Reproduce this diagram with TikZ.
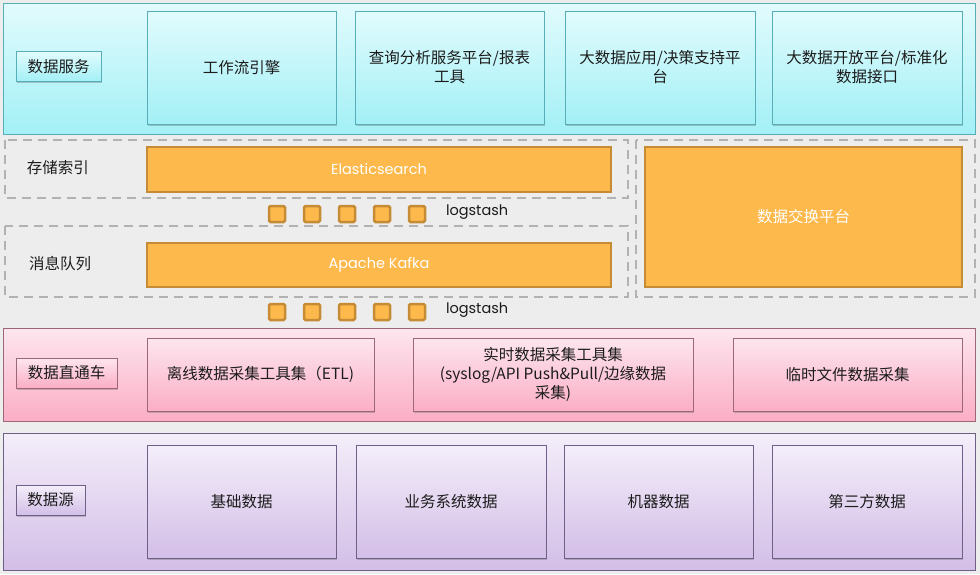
\documentclass[tikz,border=0pt]{standalone}
\usepackage{fontspec}
\setmainfont{Noto Sans CJK SC}
\newfontfamily\roundfont{Poppins}
\usepackage{tikz}
\usepackage{xcolor}
\usetikzlibrary{shadows}

\definecolor{pagegray}{HTML}{EDEDED}
\definecolor{dashgray}{HTML}{B2B2B2}
\definecolor{cyantop}{HTML}{E2FBFD}
\definecolor{cyanbot}{HTML}{A2F0F6}
\definecolor{cyanedge}{HTML}{58AEB6}
\definecolor{pinktop}{HTML}{FDE6EE}
\definecolor{pinkbot}{HTML}{FBAEC6}
\definecolor{pinkedge}{HTML}{9C6878}
\definecolor{lilactop}{HTML}{F4EEFA}
\definecolor{lilacbot}{HTML}{D3BEE7}
\definecolor{lilacedge}{HTML}{6E6086}
\definecolor{orangefill}{HTML}{FDB94C}
\definecolor{orangeedge}{HTML}{C68C35}
\definecolor{inktext}{HTML}{1C1C1C}

\begin{document}
\begin{tikzpicture}[x=1pt, y=-1pt,
    every node/.style={font=\fontsize{15.5}{19}\selectfont, text=inktext, align=center, inner sep=0pt, outer sep=0pt},
    layer/.style={draw, line width=1pt},
    cyanlayer/.style={layer, draw=cyanedge, top color=cyantop, bottom color=cyanbot},
    pinklayer/.style={layer, draw=pinkedge, top color=pinktop, bottom color=pinkbot},
    lilaclayer/.style={layer, draw=lilacedge, top color=lilactop, bottom color=lilacbot},
    softshadow/.style={drop shadow={shadow xshift=1pt, shadow yshift=-1.5pt, opacity=0.35, fill=black!60}},
    cyanbox/.style={cyanlayer, softshadow},
    pinkbox/.style={pinklayer, softshadow},
    lilacbox/.style={lilaclayer, softshadow},
    tagbox/.style={minimum height=30pt},
    dashzone/.style={draw=dashgray, line width=2.5pt, dash pattern=on 9pt off 6pt},
    orangebar/.style={draw=orangeedge, fill=orangefill, line width=2.5pt, text=white},
    pipe/.style={draw=orangeedge, fill=orangefill, line width=2.5pt, rounded corners=1.5pt, minimum size=16pt}]
  \useasboundingbox (0,0) rectangle (980,574);
  \fill[pagegray] (0,0) rectangle (980,574);

  % data services
  \node[cyanlayer, minimum width=972pt, minimum height=131pt] (svc) at (489,68.5) {};
  \node[cyanbox, tagbox, minimum width=85pt] (svctag) at (58.5,66.5) {数据服务};
  \node[cyanbox, minimum width=189pt, minimum height=113pt] (flow) at (241.5,67.5) {工作流引擎};
  \node[cyanbox, minimum width=189pt, minimum height=113pt] (query) at (449.5,67.5) {查询分析服务平台/报表\\工具};
  \node[cyanbox, minimum width=190pt, minimum height=113pt] (decide) at (660,67.5) {大数据应用/决策支持平\\台};
  \node[cyanbox, minimum width=190pt, minimum height=113pt] (open) at (867,67.5) {大数据开放平台/标准化\\数据接口};

  % storage, queue, exchange
  \draw[dashzone] (5,140) rectangle (628,198);
  \draw[dashzone] (5,226) rectangle (628,297);
  \draw[dashzone] (636,140) rectangle (975,297);
  \node (storetag) at (58,168) {存储索引};
  \node (queuetag) at (60,264) {消息队列};
  \node[orangebar, minimum width=464pt, minimum height=45pt, font=\roundfont\fontsize{14.5}{17}\selectfont] (elastic) at (379,169.5) {Elasticsearch};
  \node[orangebar, minimum width=464pt, minimum height=44pt, font=\roundfont\fontsize{14.5}{17}\selectfont] (kafka) at (379,265) {Apache Kafka};
  \node[orangebar, minimum width=317pt, minimum height=140pt] (exchange) at (803.5,217) {数据交换平台};
  \foreach \px in {277,312,347,382,417} {
    \node[pipe] at (\px,214) {};
    \node[pipe] at (\px,312) {};
  }
  \node[anchor=west, font=\roundfont\fontsize{14.5}{17}\selectfont] (stashup) at (446,212) {logstash};
  \node[anchor=west, font=\roundfont\fontsize{14.5}{17}\selectfont] (stashdown) at (446,310) {logstash};

  % data pipeline
  \node[pinklayer, minimum width=972pt, minimum height=93pt] (pipeline) at (489,374.5) {};
  \node[pinkbox, tagbox, minimum width=101pt] (pipetag) at (66.5,373) {数据直通车};
  \node[pinkbox, minimum width=227pt, minimum height=73pt] (offline) at (260.5,374.5) {离线数据采集工具集（ETL)};
  \node[pinkbox, minimum width=280pt, minimum height=73pt] (realtime) at (553,374.5) {实时数据采集工具集\\(syslog/API Push\&Pull/边缘数据\\采集)};
  \node[pinkbox, minimum width=229pt, minimum height=73pt] (tempfile) at (847.5,374.5) {临时文件数据采集};

  % data sources
  \node[lilaclayer, minimum width=972pt, minimum height=137pt] (source) at (489,501.5) {};
  \node[lilacbox, tagbox, minimum width=69pt] (sourcetag) at (50.5,500) {数据源};
  \node[lilacbox, minimum width=189pt, minimum height=113pt] (base) at (241.5,501.5) {基础数据};
  \node[lilacbox, minimum width=190pt, minimum height=113pt] (business) at (451,501.5) {业务系统数据};
  \node[lilacbox, minimum width=189pt, minimum height=113pt] (machine) at (658.5,501.5) {机器数据};
  \node[lilacbox, minimum width=190pt, minimum height=113pt] (third) at (867,501.5) {第三方数据};
\end{tikzpicture}
\end{document}
